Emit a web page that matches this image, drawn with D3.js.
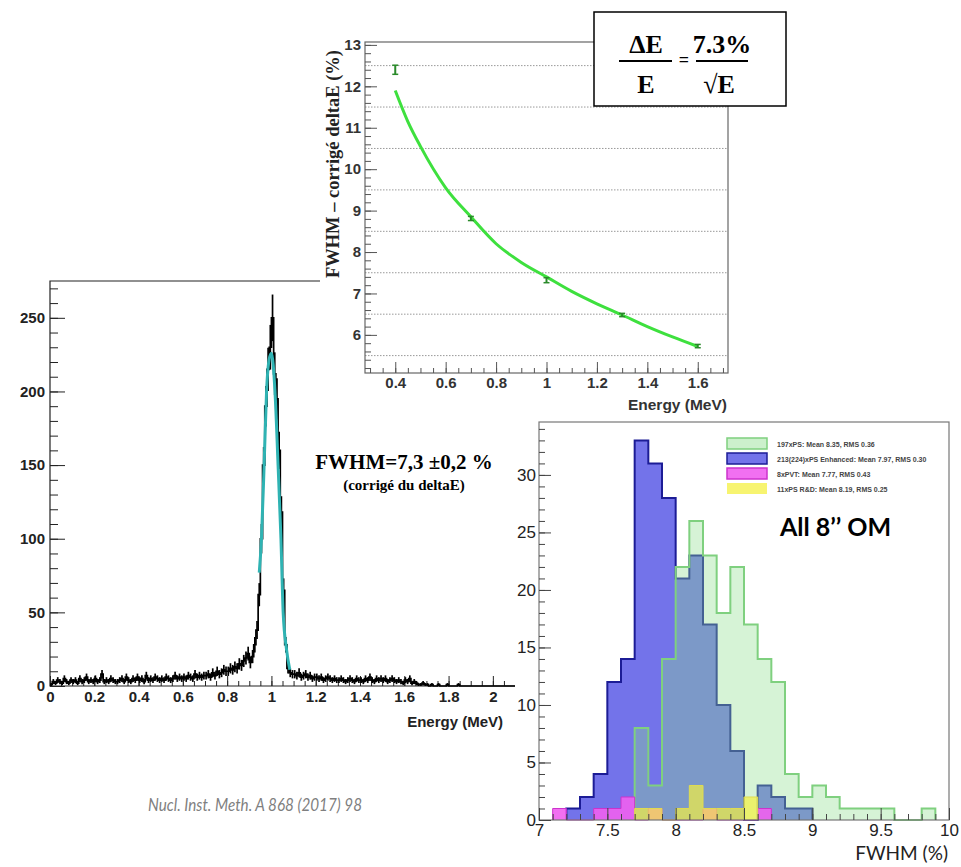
<!DOCTYPE html>
<html>
<head>
<meta charset="utf-8">
<script src="https://cdn.jsdelivr.net/npm/d3@7"></script>
<style>
  body { margin: 0; background: #fff; }
  svg { display: block; }
</style>
</head>
<body>
<div id="container"></div>
<script>
// ---- left panel: energy spectrum (bins of 0.01 MeV from 0 to 2.1) ----
const specBinWidth = 0.01;
const specCounts = [
  1,3,2,4,3,2,5,3,2,4,   3,4,2,5,3,4,6,3,4,3,
  5,3,4,8,3,4,3,5,4,3,   3,4,5,3,6,4,3,5,4,6,
  4,5,3,7,4,5,4,6,5,4,   5,4,6,5,4,5,7,5,6,5,
  6,5,7,6,5,8,6,7,6,7,   7,8,6,9,7,10,8,9,11,10,
  10,12,11,13,12,15,14,17,19,22,
  16,20,28,38,62,100,150,190,215,230,
  250,212,195,160,118,65,28,12,9,8,
  8,7,9,6,7,8,6,7,5,6,   6,5,6,4,5,6,5,4,5,4,
  4,5,4,3,4,5,4,3,5,4,   4,3,5,4,6,4,3,5,4,5,
  4,5,3,4,5,4,3,4,3,2,   4,3,5,2,3,2,1,1,2,1,
  1,0,1,0,0,1,0,0,0,1,   0,0,0,0,1,0,0,0,0,0,
  0,0,0,0,0,0,0,0,0,0,   0,0,0,0,0,0,0,0,0,0
];
const fitEnergy = [0.945, 0.955, 0.967, 0.978, 0.99, 1.0, 1.016, 1.03, 1.043, 1.053, 1.068, 1.083];
const fitCounts = [77, 100, 150, 200, 222, 226, 200, 150, 100, 50, 25, 11];
const specYTicks = [0, 50, 100, 150, 200, 250];

// ---- top panel: FWHM vs energy ----
const energies = [0.4, 0.7, 1.0, 1.3, 1.6];
const fwhmValues = [12.4, 8.81, 7.32, 6.48, 5.73];
const fwhmErrors = [0.11, 0.05, 0.06, 0.04, 0.04];
const curveEnergy = [0.4, 0.45, 0.5, 0.6, 0.7, 0.8, 0.9, 1.0, 1.1, 1.2, 1.3, 1.4, 1.5, 1.6];
const curveFwhm = [11.9, 11.15, 10.55, 9.55, 8.85, 8.2, 7.75, 7.4, 7.05, 6.75, 6.48, 6.2, 5.95, 5.72];
const topYTicks = [6, 7, 8, 9, 10, 11, 12, 13];
const topXTicks = [0.4, 0.6, 0.8, 1.0, 1.2, 1.4, 1.6];

// ---- right panel: FWHM distributions (bins of 0.1 % from 7 to 10) ----
const fwhmBinStart = 7.0, fwhmBinWidth = 0.1;
const countsPS = [0,0,0,0,0,0,0,8,3,14,22,26,23,18,22,17,14,12,4,2,3,2,1,1,1,1,0,0,1,0];
const countsEnhanced = [0,0,1,2,4,12,14,33,31,28,21,23,17,10,6,0,3,2,1,1,0,0,0,0,0,0,0,0,0,0];
const countsPVT = [0,1,0,0,1,1,2,0,1,0,0,0,1,0,0,0,1,0,0,0,0,0,0,0,0,0,0,0,0,0];
const countsRD = [0,0,0,0,0,0,0,1,1,0,1,3,1,1,1,2,0,0,0,0,0,0,0,0,0,0,0,0,0,0];
const legendLabels = [
  "197xPS: Mean 8.35, RMS 0.36",
  "213(224)xPS Enhanced: Mean 7.97, RMS 0.30",
  "8xPVT: Mean 7.77, RMS 0.43",
  "11xPS R&D: Mean 8.19, RMS 0.25"
];
const fwhmXTicks = [7, 7.5, 8, 8.5, 9, 9.5, 10];
const fwhmYTicks = [0, 5, 10, 15, 20, 25, 30];

const W = 961, H = 867;
const svg = d3.select("#container").append("svg")
    .attr("width", W).attr("height", H);

const sans = "'Liberation Sans', Arial, sans-serif";
const serif = "'Liberation Serif', 'Times New Roman', serif";
const fmt = d => String(+d.toFixed(2));

function styleAxis(g, size, weight, color) {
  g.select(".domain").remove();
  g.selectAll("line").attr("stroke", "#222").attr("stroke-width", 1);
  g.selectAll("text")
    .style("font-family", sans)
    .style("font-size", size + "px")
    .style("font-weight", weight)
    .attr("fill", color);
}

// =============== LEFT: spectrum ===============
const sx = d3.scaleLinear().domain([0, 2.1]).range([50, 515]);
const sy = d3.scaleLinear().domain([0, 275]).range([686, 281]);
const specG = svg.append("g");

specG.append("path")
  .attr("d", `M${sx(2.1)},${sy(275)}H${sx(0)}V${sy(0)}H${sx(2.1)}`)
  .attr("fill", "none").attr("stroke", "#222").attr("stroke-width", 1.2);

specG.append("g").attr("transform", `translate(${sx(0)},0)`)
  .call(d3.axisLeft(sy).tickValues(d3.range(0, 271, 10)).tickSize(-8).tickFormat(""))
  .call(g => styleAxis(g, 15, "bold", "#222"));
specG.append("g").attr("transform", `translate(${sx(0)},0)`)
  .call(d3.axisLeft(sy).tickValues(specYTicks).tickSizeInner(-15).tickSizeOuter(0).tickPadding(5))
  .call(g => styleAxis(g, 15, "bold", "#222"));
specG.append("g").attr("transform", `translate(0,${sy(0)})`)
  .call(d3.axisBottom(sx).tickValues(d3.range(0, 2.101, 0.05)).tickSize(-5).tickFormat(""))
  .call(g => styleAxis(g, 15, "bold", "#222"));
specG.append("g").attr("transform", `translate(0,${sy(0)})`)
  .call(d3.axisBottom(sx).tickValues(d3.range(0, 2.01, 0.2)).tickSizeInner(-10).tickSizeOuter(0).tickPadding(5).tickFormat(fmt))
  .call(g => styleAxis(g, 15, "bold", "#222"));

const specData = specCounts.map((c, i) => ({e: i * specBinWidth, c: c}));
const specLine = d3.line().curve(d3.curveStepAfter)
  .x(d => sx(d.e)).y(d => sy(d.c));
specG.append("path")
  .datum(specData.concat([{e: specCounts.length * specBinWidth, c: specCounts[specCounts.length - 1]}]))
  .attr("d", specLine)
  .attr("fill", "none").attr("stroke", "#000").attr("stroke-width", 1.7);

specG.selectAll(".err")
  .data(specData.filter(d => d.c > 0))
  .enter().append("line")
  .attr("x1", d => sx(d.e + specBinWidth / 2))
  .attr("x2", d => sx(d.e + specBinWidth / 2))
  .attr("y1", d => sy(d.c + Math.sqrt(d.c)))
  .attr("y2", d => sy(Math.max(0, d.c - Math.sqrt(d.c))))
  .attr("stroke", "#000").attr("stroke-width", 1.7);

specG.append("path")
  .datum(fitEnergy.map((e, i) => [e, fitCounts[i]]))
  .attr("d", d3.line().curve(d3.curveMonotoneX).x(d => sx(d[0])).y(d => sy(d[1])))
  .attr("fill", "none").attr("stroke", "#2fb3b3").attr("stroke-width", 3);

specG.append("text").attr("x", 503).attr("y", 727).attr("text-anchor", "end")
  .style("font-family", sans).style("font-size", "15px").style("font-weight", "bold")
  .attr("fill", "#222").text("Energy (MeV)");

specG.append("text").attr("x", 404).attr("y", 469).attr("text-anchor", "middle")
  .style("font-family", serif).style("font-size", "21px").style("font-weight", "bold")
  .text("FWHM=7,3 \u00b10,2 %");
specG.append("text").attr("x", 404).attr("y", 490).attr("text-anchor", "middle")
  .style("font-family", serif).style("font-size", "15px").style("font-weight", "bold")
  .text("(corrigé du deltaE)");

svg.append("text").attr("x", 148).attr("y", 811)
  .attr("textLength", 214).attr("lengthAdjust", "spacingAndGlyphs")
  .style("font-family", "Lato, 'Open Sans', sans-serif").style("font-size", "17px")
  .style("font-style", "italic").attr("fill", "#7f7f7f")
  .text("Nucl. Inst. Meth. A 868 (2017) 98");

// =============== RIGHT: FWHM distributions ===============
const distG = svg.append("g");
distG.append("rect").attr("x", 515).attr("y", 380).attr("width", W - 515).attr("height", H - 380)
  .attr("fill", "#fff");

const rx = d3.scaleLinear().domain([7, 10]).range([539, 949]);
const ry = d3.scaleLinear().domain([0, 34.6]).range([820, 422]);

function histPoints(counts) {
  let first = counts.findIndex(c => c > 0);
  let last = counts.length - 1 - [...counts].reverse().findIndex(c => c > 0);
  const pts = [{x: fwhmBinStart + first * fwhmBinWidth, y: 0}];
  for (let i = first; i <= last; i++) pts.push({x: fwhmBinStart + i * fwhmBinWidth, y: counts[i]});
  pts.push({x: fwhmBinStart + (last + 1) * fwhmBinWidth, y: 0});
  return pts;
}
const histLine = d3.line().curve(d3.curveStepAfter).x(d => rx(d.x)).y(d => ry(d.y));

const series = [
  {counts: countsEnhanced, fill: "#5b5be6", fillOp: 0.85, stroke: "#1c1c96", sw: 2},
  {counts: countsPS, fill: "#8ede8e", fillOp: 0.36, stroke: "#7fd07f", sw: 2},
  {counts: countsPVT, fill: "#f060f0", fillOp: 0.9, stroke: "#cc33cc", sw: 1},
  {counts: countsRD, fill: "#f4f040", fillOp: 0.7, stroke: "#e0dc50", sw: 1}
];
series.forEach(s => {
  distG.append("path")
    .datum(histPoints(s.counts))
    .attr("d", histLine)
    .attr("fill", s.fill).attr("fill-opacity", s.fillOp)
    .attr("stroke", s.stroke).attr("stroke-width", s.sw);
});

distG.append("rect").attr("x", rx(7)).attr("y", ry(34.6))
  .attr("width", rx(10) - rx(7)).attr("height", ry(0) - ry(34.6))
  .attr("fill", "none").attr("stroke", "#777").attr("stroke-width", 1.2);

distG.append("g").attr("transform", `translate(${rx(7)},0)`)
  .call(d3.axisLeft(ry).tickValues(d3.range(0, 35, 1)).tickSize(-6).tickFormat(""))
  .call(g => styleAxis(g, 17, "normal", "#222"));
distG.append("g").attr("transform", `translate(${rx(7)},0)`)
  .call(d3.axisLeft(ry).tickValues(fwhmYTicks).tickSizeInner(-12).tickSizeOuter(0).tickPadding(3))
  .call(g => styleAxis(g, 17, "normal", "#222"));
distG.append("g").attr("transform", `translate(0,${ry(0)})`)
  .call(d3.axisBottom(rx).tickValues(d3.range(7, 10.01, 0.1)).tickSize(-6).tickFormat(""))
  .call(g => styleAxis(g, 17, "normal", "#222"));
distG.append("g").attr("transform", `translate(0,${ry(0)})`)
  .call(d3.axisBottom(rx).tickValues(fwhmXTicks).tickSizeInner(-12).tickSizeOuter(0).tickPadding(4).tickFormat(fmt))
  .call(g => styleAxis(g, 17, "normal", "#222"));
distG.selectAll(".tick line").attr("stroke", "#444");

const legend = distG.selectAll(".legend")
  .data(legendLabels)
  .enter().append("g")
  .attr("class", "legend")
  .attr("transform", (d, i) => `translate(727,${438 + i * 15})`);
legend.append("rect")
  .attr("width", 40).attr("height", 11)
  .attr("fill", (d, i) => series[[1, 0, 2, 3][i]].fill)
  .attr("fill-opacity", (d, i) => [0.45, 0.85, 0.9, 0.75][i])
  .attr("stroke", (d, i) => ["#7fd07f", "#1c1c96", "#cc33cc", "none"][i])
  .attr("stroke-width", 1.5);
legend.append("text")
  .attr("x", 50).attr("y", 8.5)
  .style("font-family", sans).style("font-size", "7px").style("font-weight", "bold")
  .attr("fill", "#444")
  .text(d => d);

distG.append("text").attr("x", 780).attr("y", 536)
  .style("font-family", "Lato, 'Open Sans', sans-serif").style("font-size", "25px").style("font-weight", "bold")
  .attr("fill", "#000").text("All 8\u2019\u2019 OM");

distG.append("text").attr("x", 948).attr("y", 860).attr("text-anchor", "end")
  .style("font-family", "Lato, 'Open Sans', sans-serif").style("font-size", "19px")
  .attr("fill", "#222").text("FWHM (%)");

// =============== TOP: FWHM vs energy ===============
const resG = svg.append("g");
resG.append("rect").attr("x", 320).attr("y", 0).attr("width", 420).attr("height", 415).attr("fill", "#fff");

const tx = d3.scaleLinear().domain([0.28, 1.72]).range([365, 728]);
const ty = d3.scaleLinear().domain([5.08, 13.07]).range([373, 42]);

resG.selectAll(".grid")
  .data(d3.range(5.5, 13, 1))
  .enter().append("line")
  .attr("class", "grid")
  .attr("x1", tx(0.28)).attr("x2", tx(1.72))
  .attr("y1", d => ty(d)).attr("y2", d => ty(d))
  .attr("stroke", "#999").attr("stroke-width", 1).attr("stroke-dasharray", "1.5,1.5");

resG.append("rect").attr("x", tx(0.28)).attr("y", ty(13.07))
  .attr("width", tx(1.72) - tx(0.28)).attr("height", ty(5.08) - ty(13.07))
  .attr("fill", "none").attr("stroke", "#666").attr("stroke-width", 1.2);

resG.append("g").attr("transform", `translate(${tx(0.28)},0)`)
  .call(d3.axisLeft(ty).tickValues(d3.range(5.2, 13.01, 0.2)).tickSize(-6).tickFormat(""))
  .call(g => styleAxis(g, 15, "bold", "#333"));
resG.append("g").attr("transform", `translate(${tx(0.28)},0)`)
  .call(d3.axisLeft(ty).tickValues(topYTicks).tickSizeInner(-12).tickSizeOuter(0).tickPadding(4))
  .call(g => styleAxis(g, 15, "bold", "#333"));
resG.append("g").attr("transform", `translate(0,${ty(5.08)})`)
  .call(d3.axisBottom(tx).tickValues(d3.range(0.3, 1.71, 0.05)).tickSize(-5).tickFormat(""))
  .call(g => styleAxis(g, 15, "bold", "#333"));
resG.append("g").attr("transform", `translate(0,${ty(5.08)})`)
  .call(d3.axisBottom(tx).tickValues(topXTicks).tickSizeInner(-11).tickSizeOuter(0).tickPadding(4).tickFormat(fmt))
  .call(g => styleAxis(g, 15, "bold", "#333"));
resG.selectAll(".tick line").attr("stroke", "#555");

resG.append("path")
  .datum(curveEnergy.map((e, i) => [e, curveFwhm[i]]))
  .attr("d", d3.line().curve(d3.curveMonotoneX).x(d => tx(d[0])).y(d => ty(d[1])))
  .attr("fill", "none").attr("stroke", "#3ee03e").attr("stroke-width", 3);

const pts = energies.map((e, i) => ({e: e, v: fwhmValues[i], err: fwhmErrors[i]}));
const eb = resG.selectAll(".eb").data(pts).enter().append("g").attr("class", "eb");
eb.append("line")
  .attr("x1", d => tx(d.e)).attr("x2", d => tx(d.e))
  .attr("y1", d => ty(d.v + d.err)).attr("y2", d => ty(d.v - d.err))
  .attr("stroke", "#2a8a2a").attr("stroke-width", 2);
[1, -1].forEach(s => {
  eb.append("line")
    .attr("x1", d => tx(d.e) - 3).attr("x2", d => tx(d.e) + 3)
    .attr("y1", d => ty(d.v + s * d.err)).attr("y2", d => ty(d.v + s * d.err))
    .attr("stroke", "#2a8a2a").attr("stroke-width", 1.5);
});

resG.append("text")
  .attr("transform", "translate(339,50) rotate(-90)")
  .attr("text-anchor", "end")
  .style("font-family", serif).style("font-size", "18.5px").style("font-weight", "bold")
  .attr("fill", "#222").text("FWHM \u2013 corrigé deltaE (%)");

resG.append("text").attr("x", 727).attr("y", 410).attr("text-anchor", "end")
  .style("font-family", sans).style("font-size", "15.5px").style("font-weight", "bold")
  .attr("fill", "#333").text("Energy (MeV)");

// =============== formula box ===============
const box = svg.append("g");
box.append("rect").attr("x", 594).attr("y", 12).attr("width", 192).attr("height", 94)
  .attr("fill", "#fff").attr("stroke", "#000").attr("stroke-width", 1.5);
const ftxt = (x, y, s, size) => box.append("text").attr("x", x).attr("y", y)
  .attr("text-anchor", "middle")
  .style("font-family", serif).style("font-size", size + "px").style("font-weight", "bold")
  .text(s);
ftxt(646, 53, "\u0394E", 26);
ftxt(646, 93, "E", 26);
ftxt(684, 66, "=", 18);
ftxt(722, 53, "7.3%", 26);
ftxt(719, 93, "\u221aE", 26);
box.append("line").attr("x1", 619).attr("x2", 672).attr("y1", 61).attr("y2", 61)
  .attr("stroke", "#000").attr("stroke-width", 2);
box.append("line").attr("x1", 696).attr("x2", 748).attr("y1", 61).attr("y2", 61)
  .attr("stroke", "#000").attr("stroke-width", 2);
</script>
</body>
</html>
